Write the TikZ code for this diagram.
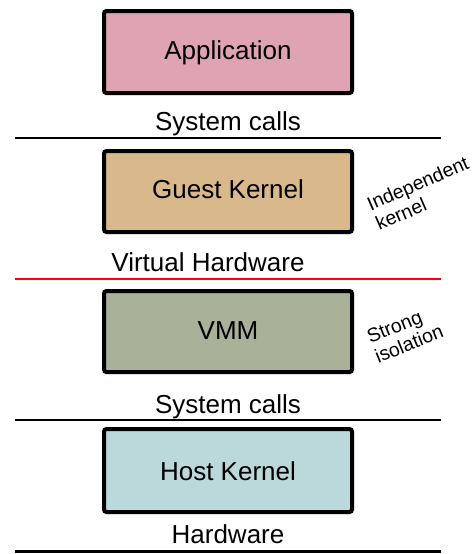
\documentclass[tikz,border=0pt]{standalone}
\usepackage{fontspec}
\setmainfont{Liberation Sans}
\definecolor{appfill}{HTML}{E0A3B3}
\definecolor{guestfill}{HTML}{D9B98C}
\definecolor{vmmfill}{HTML}{A9B199}
\definecolor{hostfill}{HTML}{BBD8DA}
\tikzset{
  layerbox/.style={draw=black, line width=4pt, rounded corners=2.5pt},
  boxtext/.style={anchor=base, inner sep=0pt, font=\fontsize{26}{30}\selectfont},
  labeltext/.style={anchor=base, inner sep=0pt, font=\fontsize{26}{30}\selectfont},
  sepline/.style={line width=2.6pt},
  notetext/.style={align=left, inner sep=0pt, font=\fontsize{19.5}{21.5}\selectfont}
}
\begin{document}
\begin{tikzpicture}[x=1pt,y=-1pt]
\useasboundingbox (0,0) rectangle (476,554);
% boxes
\draw[layerbox, fill=appfill] (104,11) rectangle (352,93);
\draw[layerbox, fill=guestfill] (104,151) rectangle (352,232);
\draw[layerbox, fill=vmmfill] (104,291) rectangle (352,372);
\draw[layerbox, fill=hostfill] (104,429) rectangle (352,512);
% box texts
\node[boxtext] (app) at (228,59) {Application};
\node[boxtext] (guest) at (228,198) {Guest Kernel};
\node[boxtext] (vmm) at (228,339) {VMM};
\node[boxtext] (host) at (228,480) {Host Kernel};
% interface labels
\node[labeltext] (sys1) at (228,130) {System calls};
\node[labeltext] (vhw) at (208,271) {Virtual Hardware};
\node[labeltext] (sys2) at (228,413) {System calls};
\node[labeltext] (hw) at (228,543) {Hardware};
% separator lines
\coordinate (l1a) at (15,138); \coordinate (l1b) at (441,138);
\coordinate (l2a) at (15,279); \coordinate (l2b) at (441,279);
\coordinate (l3a) at (15,420); \coordinate (l3b) at (441,420);
\coordinate (l4a) at (15,551.5); \coordinate (l4b) at (441,551.5);
\draw[sepline] (l1a) -- (l1b);
\draw[sepline, red] (l2a) -- (l2b);
\draw[sepline] (l3a) -- (l3b);
\draw[sepline] (l4a) -- (l4b);
% notes
\node[notetext, rotate=23.5] (indep) at (422,193) {Independent\\kernel};
\node[notetext, rotate=22] (strong) at (405,334) {Strong\\isolation};
\end{tikzpicture}
\end{document}
